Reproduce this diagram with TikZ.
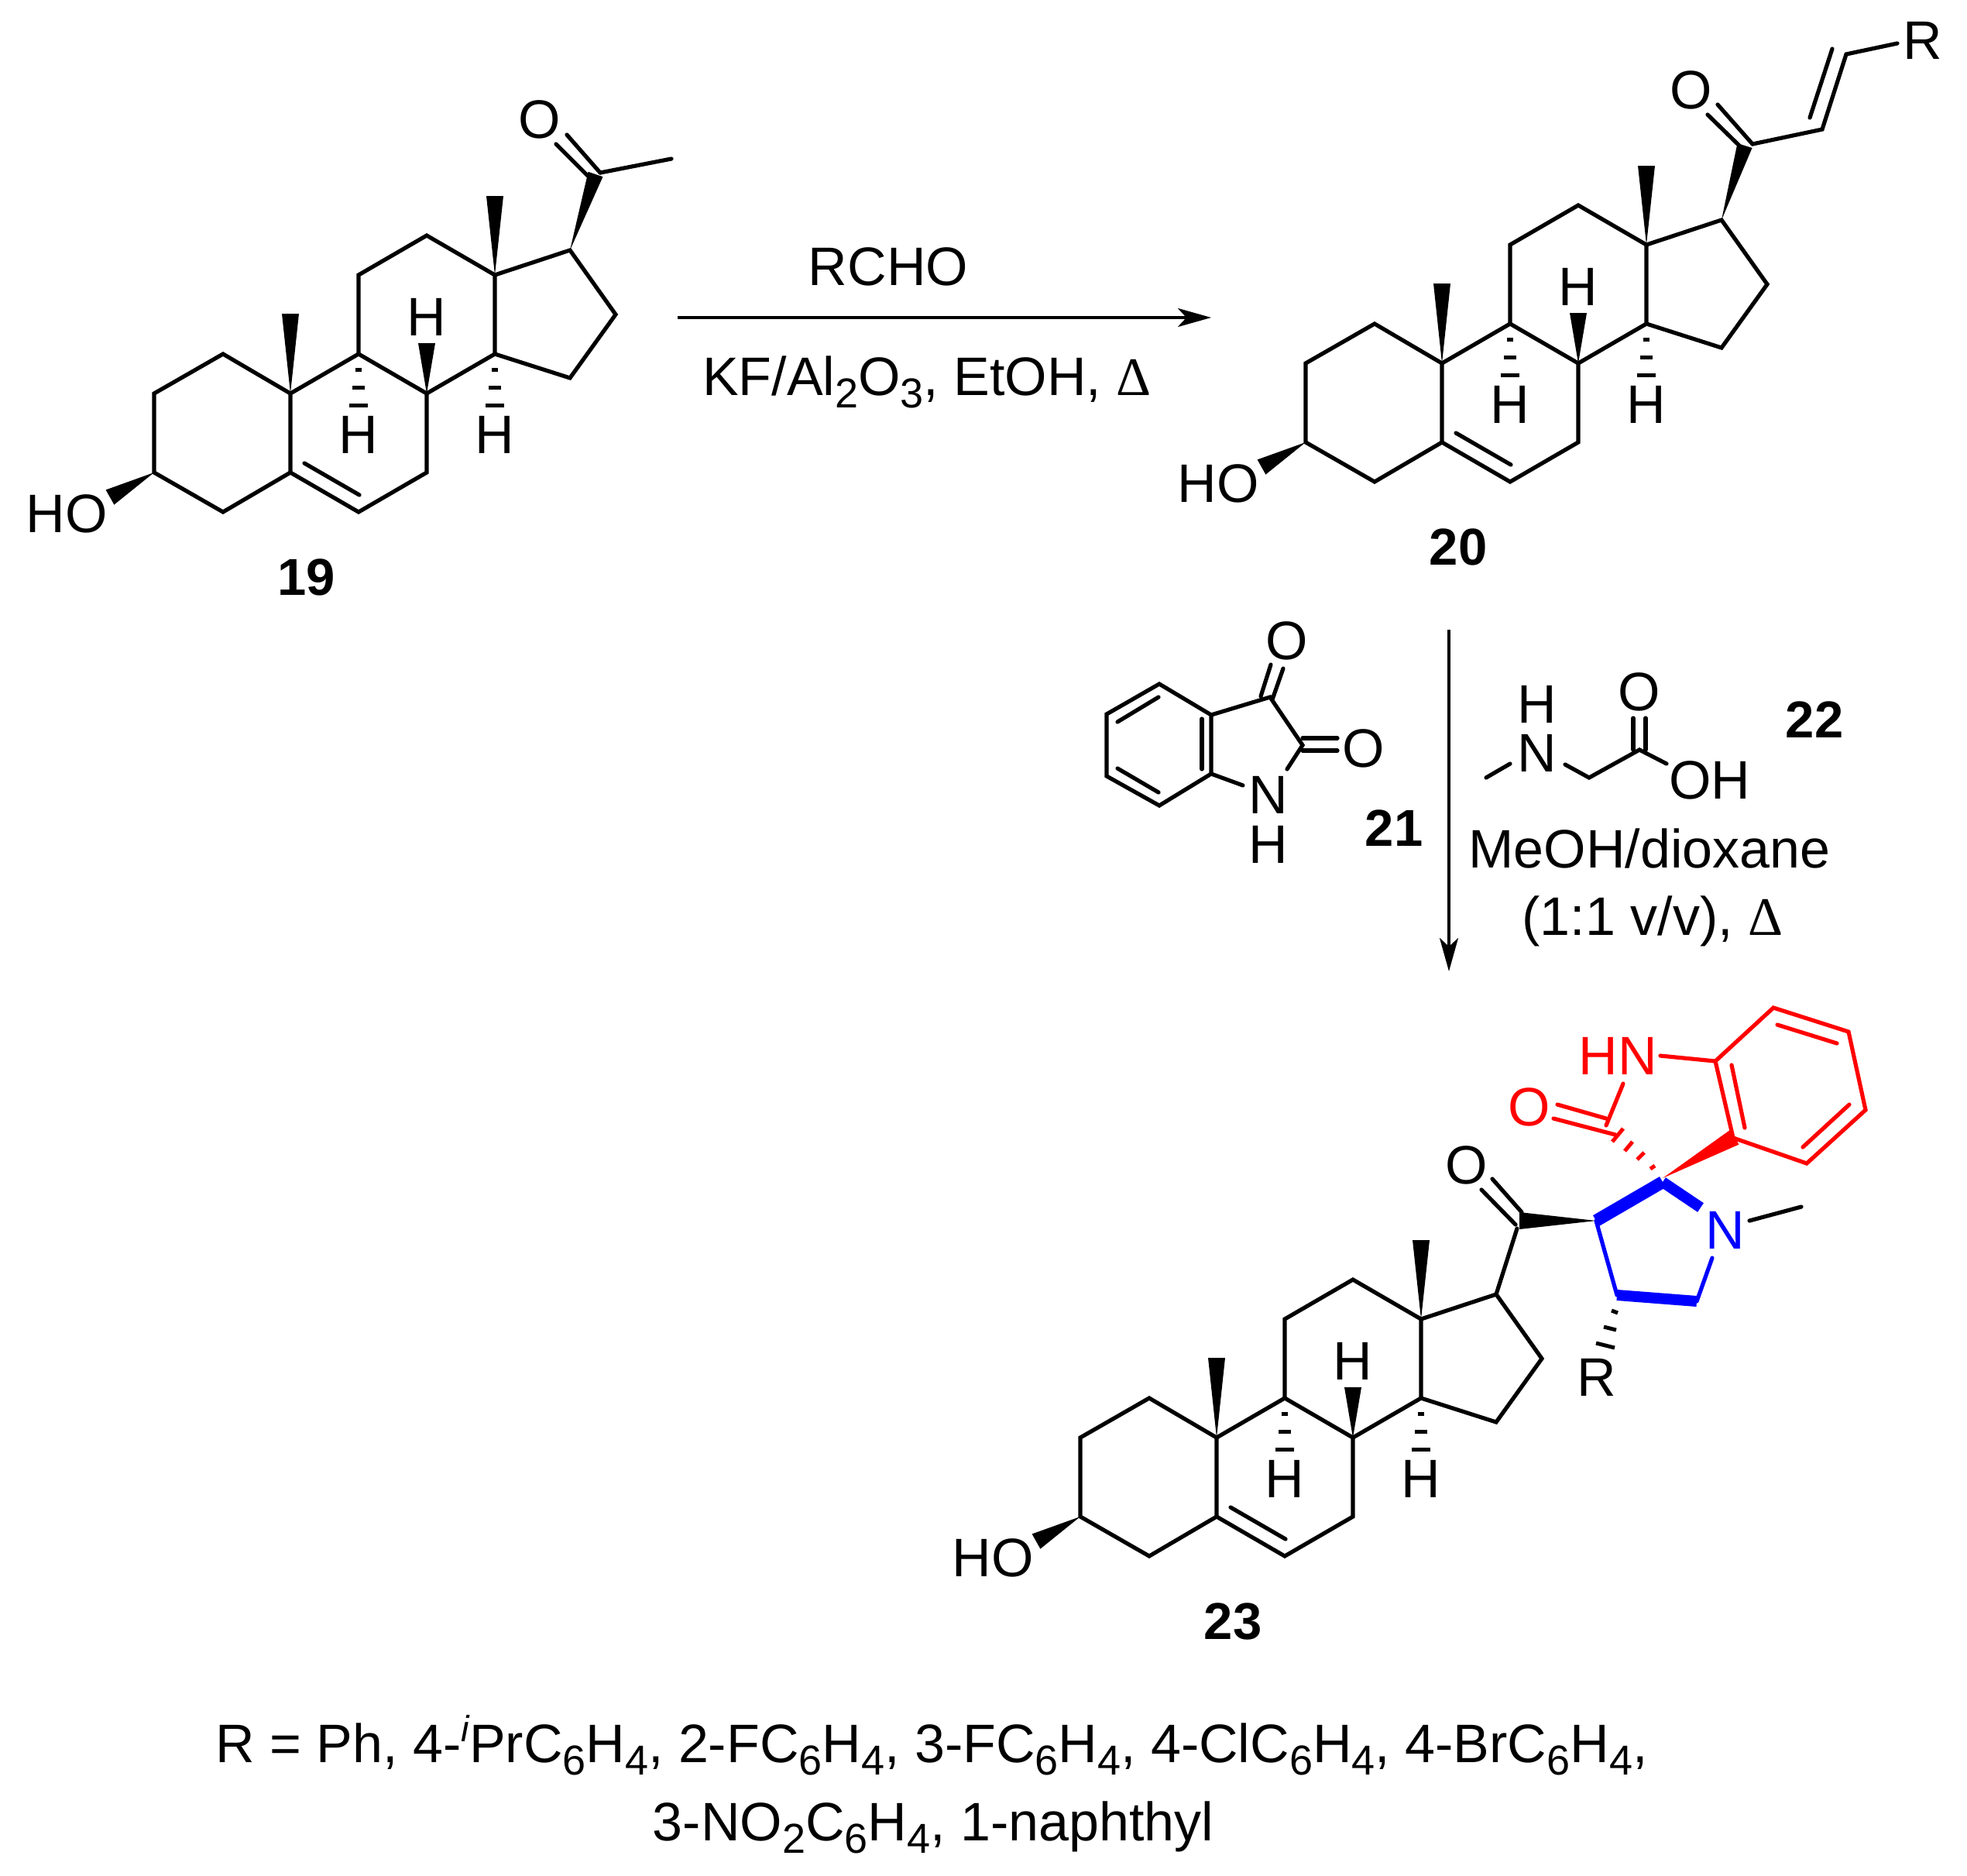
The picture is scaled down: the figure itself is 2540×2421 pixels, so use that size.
\documentclass[tikz,border=0pt]{standalone}
\usepackage{fontspec}
\setmainfont{Liberation Sans}
\newfontfamily\deltafont{Liberation Serif}
\usetikzlibrary{arrows.meta,calc}

\begin{document}
\begin{tikzpicture}[x=1pt,y=-1pt]
	\tikzstyle{bond} = [line width=5.2pt,line cap=round,line join=miter]
	\tikzstyle{hash} = [line width=5pt]
	\tikzstyle{thick bond} = [line cap=butt,color=blue]
	\tikzstyle{txt} = [inner sep=0pt,font=\fontsize{70}{70}\selectfont]
	\tikzstyle{cmpd} = [inner sep=0pt,font=\fontsize{67}{67}\selectfont\bfseries]
	\tikzstyle{rxn} = [line width=3.5pt,-{Stealth[length=43pt,width=24pt,inset=11pt]}]
	\def\lowtext#1{\raisebox{-16pt}{\fontsize{54}{54}\selectfont #1}}
	\def\hightext#1{\raisebox{27pt}{\fontsize{47}{47}\selectfont\itshape #1}}
	\def\heat{{\deltafont Δ}}
	\def\wedgebond#1#2#3#4{\fill[#4] (#1) -- ($(#2)!#3!90:(#1)$) -- ($(#2)!#3!-90:(#1)$) -- cycle;}
	\def\hashdown#1{
		\draw[hash] ([shift={(-4,20)}]#1) -- ([shift={(4,20)}]#1);
		\draw[hash] ([shift={(-8,43)}]#1) -- ([shift={(8,43)}]#1);
		\draw[hash] ([shift={(-12,66)}]#1) -- ([shift={(12,66)}]#1);
	}
	\def\steroid#1#2#3#4{
		\begin{scope}[shift={(#2,#3)}]
			\coordinate (#1c1) at (89,-153);
			\coordinate (#1c2) at (0,-102);
			\coordinate (#1c3) at (0,0);
			\coordinate (#1c4) at (89,51);
			\coordinate (#1c5) at (176,0);
			\coordinate (#1c6) at (264,51);
			\coordinate (#1c7) at (352,0);
			\coordinate (#1c8) at (352,-102);
			\coordinate (#1c9) at (264,-153);
			\coordinate (#1c10) at (176,-102);
			\coordinate (#1c11) at (264,-255);
			\coordinate (#1c12) at (352,-306);
			\coordinate (#1c13) at (440,-255);
			\coordinate (#1c14) at (440,-153);
			\coordinate (#1c15) at (537,-122);
			\coordinate (#1c16) at (596,-204);
			\coordinate (#1c17) at (537,-287);
			\coordinate (#1in1) at (194,-12);
			\coordinate (#1in2) at (265,29);
			\coordinate (#1me1) at (176,-205);
			\coordinate (#1me2) at (440,-357);
			\coordinate (#1w8) at (352,-167);
			\coordinate (#1w3) at (-57,32);
		\end{scope}
		\draw[bond] (#1c3) -- (#1c2) -- (#1c1) -- (#1c10) -- (#1c5) -- (#1c4) -- cycle;
		\draw[bond] (#1c5) -- (#1c6) -- (#1c7) -- (#1c8) -- (#1c9) -- (#1c10);
		\draw[bond] (#1c9) -- (#1c11) -- (#1c12) -- (#1c13) -- (#1c14) -- (#1c8);
		\draw[bond] (#1c14) -- (#1c15) -- (#1c16) -- (#1c17) -- (#1c13);
		\draw[bond] (#1in1) -- (#1in2);
		\wedgebond{#1c10}{#1me1}{11pt}{black}
		\wedgebond{#1c13}{#1me2}{11pt}{black}
		\wedgebond{#1c8}{#1w8}{11pt}{black}
		\wedgebond{#1c3}{#1w3}{11pt}{black}
		\hashdown{#1c9}
		\hashdown{#1c14}
		\node[txt,above of=#1c8,node distance=99pt] (#1h8) {H};
		\node[txt,below of=#1c9,node distance=104pt] (#1h9) {H};
		\node[txt,below of=#1c14,node distance=104pt] (#1h14) {H};
		\node[txt,below of=#1c3,node distance=53pt,xshift=-113pt] (#1oh) {HO};
		\node[cmpd,below of=#1c4,node distance=84pt,xshift=108pt] (#1lab) {#4};
	}
	\useasboundingbox (0,0) rectangle (2540,2421);
	\steroid{a}{199}{610}{19}
	\steroid{b}{1686}{571}{20}
	\steroid{e}{1395}{1958}{23}
	% 19 side chain
	\coordinate (ac20) at (769,225);
	\coordinate (ac21) at (867,205);
	\coordinate (ao1) at (732,174);
	\coordinate (ao2) at (775,223);
	\coordinate (ao3) at (718,186);
	\coordinate (ao4) at (759,227);
	\node[txt] (ao) at (697,154) {O};
	\wedgebond{ac17}{ac20}{10pt}{black}
	\draw[bond] (ao2) -- (ac21);
	\draw[bond] (ao1) -- (ao2);
	\draw[bond] (ao3) -- (ao4);
	% 20 side chain
	\coordinate (bc20) at (2253,188);
	\coordinate (bc21) at (2263,186);
	\coordinate (bc22) at (2353,167);
	\coordinate (bc23) at (2384,70);
	\coordinate (bc24) at (2450,56);
	\coordinate (bo1) at (2218,135);
	\coordinate (bo3) at (2205,148);
	\coordinate (bo4) at (2247,189);
	\coordinate (bi1) at (2337,152);
	\coordinate (bi2) at (2366,63);
	\node[txt] (bo) at (2184,116) {O};
	\node[txt] (br) at (2483,52) {R};
	\wedgebond{bc17}{bc20}{10pt}{black}
	\draw[bond] (bc21) -- (bc22) -- (bc23) -- (bc24);
	\draw[bond] (bi1) -- (bi2);
	\draw[bond] (bo1) -- (bc21);
	\draw[bond] (bo3) -- (bo4);
	% reaction 1
	\coordinate (r1a) at (875,410);
	\coordinate (r1b) at (1564,410);
	\draw[rxn] (r1a) -- (r1b);
	\node[txt,anchor=base] (rcho) at (1147,368) {RCHO};
	\node[txt,anchor=base] (kf) at (1197,510) {KF/Al\lowtext{2}O\lowtext{3}, EtOH, \heat};
	% reaction 2
	\coordinate (r2a) at (1871,813);
	\coordinate (r2b) at (1871,1254);
	\draw[rxn] (r2a) -- (r2b);
	\node[txt,anchor=base] (meoh) at (2130,1120) {MeOH/dioxane};
	\node[txt,anchor=base] (vv) at (2134,1207) {(1:1 v/v), \heat};
	% 21
	\coordinate (i1) at (1497,883);
	\coordinate (i2) at (1429,922);
	\coordinate (i3) at (1429,1002);
	\coordinate (i4) at (1497,1040);
	\coordinate (i5) at (1564,999);
	\coordinate (i6) at (1564,923);
	\coordinate (i7) at (1640,900);
	\coordinate (i8) at (1682,962);
	\coordinate (i9) at (1605,1014);
	\coordinate (i10) at (1662,993);
	\coordinate (id1) at (1443,932);
	\coordinate (id2) at (1496,900);
	\coordinate (id3) at (1443,992);
	\coordinate (id4) at (1496,1023);
	\coordinate (id5) at (1552,928);
	\coordinate (id6) at (1552,993);
	\coordinate (io1) at (1628,899);
	\coordinate (io2) at (1641,858);
	\coordinate (io3) at (1643,903);
	\coordinate (io4) at (1657,863);
	\coordinate (io5) at (1682,953);
	\coordinate (io6) at (1727,953);
	\coordinate (io7) at (1682,969);
	\coordinate (io8) at (1727,969);
	\draw[bond] (i5) -- (i6) -- (i1) -- (i2) -- (i3) -- (i4) -- cycle;
	\draw[bond] (i6) -- (i7) -- (i8) -- (i10);
	\draw[bond] (i5) -- (i9);
	\draw[bond] (id1) -- (id2);
	\draw[bond] (id3) -- (id4);
	\draw[bond] (id5) -- (id6);
	\draw[bond] (io1) -- (io2);
	\draw[bond] (io3) -- (io4);
	\draw[bond] (io5) -- (io6);
	\draw[bond] (io7) -- (io8);
	\node[txt] (io) at (1662,827) {O};
	\node[txt] (ioo) at (1761,966) {O};
	\node[txt] (in) at (1638,1026) {N};
	\node[txt] (inh) at (1638,1090) {H};
	\node[cmpd] (ilab) at (1800,1069) {21};
	% 22
	\coordinate (s1) at (1919,1004);
	\coordinate (s2) at (1950,986);
	\coordinate (s3) at (2021,987);
	\coordinate (s4) at (2052,1004);
	\coordinate (s5) at (2117,968);
	\coordinate (s6) at (2152,986);
	\coordinate (so1) at (2109,968);
	\coordinate (so2) at (2109,927);
	\coordinate (so3) at (2125,968);
	\coordinate (so4) at (2125,927);
	\draw[bond] (s1) -- (s2);
	\draw[bond] (s3) -- (s4) -- (s5) -- (s6);
	\draw[bond] (so1) -- (so2);
	\draw[bond] (so3) -- (so4);
	\node[txt] (sh) at (1985,909) {H};
	\node[txt] (sn) at (1985,972) {N};
	\node[txt] (so) at (2117,893) {O};
	\node[txt] (soh) at (2208,1007) {OH};
	\node[cmpd] (slab) at (2343,929) {22};
	% 23 side chain
	\coordinate (ec20) at (1959,1586);
	\coordinate (ew) at (1962,1576);
	\coordinate (eo1) at (1927,1522);
	\coordinate (eo2) at (1965,1565);
	\coordinate (eo3) at (1913,1536);
	\coordinate (eo4) at (1957,1581);
	\coordinate (ea) at (2061,1576);
	\coordinate (eb) at (2147,1526);
	\coordinate (ec) at (2196,1559);
	\coordinate (ed) at (2088,1672);
	\coordinate (ef) at (2191,1680);
	\coordinate (eg) at (2211,1624);
	\coordinate (em1) at (2259,1576);
	\coordinate (em2) at (2326,1558);
	\node[txt] (eoo) at (1894,1504) {O};
	\node[txt] (er) at (2062,1778) {R};
	\node[txt,color=blue] (en) at (2228,1588) {N};
	\draw[bond] (ec17) -- (ec20);
	\draw[bond] (eo1) -- (eo2);
	\draw[bond] (eo3) -- (eo4);
	\wedgebond{ea}{ew}{11pt}{black}
	\draw[bond,color=blue] (ea) -- (ed);
	\draw[bond,color=blue] (ef) -- (eg);
	\draw[thick bond,line width=16pt] (ea) -- (eb);
	\draw[thick bond,line width=14pt] (eb) -- (ec);
	\draw[thick bond,line width=14pt] (ed) -- (ef);
	\draw[bond] (em1) -- (em2);
	\coordinate (eh1) at (2081,1692);
	\coordinate (eh2) at (2089,1695);
	\coordinate (eh3) at (2071,1713);
	\coordinate (eh4) at (2087,1717);
	\coordinate (eh5) at (2061,1734);
	\coordinate (eh6) at (2085,1740);
	\draw[hash] (eh1) -- (eh2);
	\draw[hash] (eh3) -- (eh4);
	\draw[hash] (eh5) -- (eh6);
	% oxindole
	\coordinate (o1) at (2238,1469);
	\coordinate (o2) at (2215,1370);
	\coordinate (o3) at (2290,1301);
	\coordinate (o4) at (2387,1332);
	\coordinate (o5) at (2409,1433);
	\coordinate (o6) at (2333,1502);
	\coordinate (ow) at (2240,1468);
	\coordinate (ot) at (2147,1521);
	\coordinate (on) at (2144,1363);
	\coordinate (on1) at (2096,1399);
	\coordinate (on2) at (2074,1453);
	\coordinate (od1) at (2011,1426);
	\coordinate (od2) at (2074,1444);
	\coordinate (od3) at (2006,1444);
	\coordinate (od4) at (2086,1465);
	\coordinate (oi1) at (2236,1375);
	\coordinate (oi2) at (2253,1456);
	\coordinate (oi3) at (2295,1323);
	\coordinate (oi4) at (2372,1347);
	\coordinate (oi5) at (2388,1426);
	\coordinate (oi6) at (2328,1481);
	\coordinate (oh1) at (2082,1474);
	\coordinate (oh2) at (2096,1457);
	\coordinate (oh3) at (2098,1486);
	\coordinate (oh4) at (2108,1474);
	\coordinate (oh5) at (2114,1497);
	\coordinate (oh6) at (2123,1488);
	\coordinate (oh7) at (2131,1509);
	\coordinate (oh8) at (2137,1505);
	\node[txt,color=red] (ohn) at (2089,1363) {HN};
	\node[txt,color=red] (oo) at (1975,1429) {O};
	\wedgebond{ot}{ow}{11pt}{red}
	\draw[bond,color=red] (on) -- (o2) -- (o3) -- (o4) -- (o5) -- (o6) -- (o1) -- (o2);
	\draw[bond,color=red] (on1) -- (on2);
	\draw[bond,color=red] (od1) -- (od2);
	\draw[bond,color=red] (od3) -- (od4);
	\draw[bond,color=red] (oi1) -- (oi2);
	\draw[bond,color=red] (oi3) -- (oi4);
	\draw[bond,color=red] (oi5) -- (oi6);
	\draw[hash,color=red] (oh1) -- (oh2);
	\draw[hash,color=red] (oh3) -- (oh4);
	\draw[hash,color=red] (oh5) -- (oh6);
	\draw[hash,color=red] (oh7) -- (oh8);
	% R groups
	\node[txt,anchor=base] (rl1) at (1203,2275) {R = Ph, 4-\hightext{i}PrC\lowtext{6}H\lowtext{4}, 2-FC\lowtext{6}H\lowtext{4}, 3-FC\lowtext{6}H\lowtext{4}, 4-ClC\lowtext{6}H\lowtext{4}, 4-BrC\lowtext{6}H\lowtext{4},};
	\node[txt,anchor=base] (rl2) at (1205,2376) {3-NO\lowtext{2}C\lowtext{6}H\lowtext{4}, 1-naphthyl};
\end{tikzpicture}
\end{document}
